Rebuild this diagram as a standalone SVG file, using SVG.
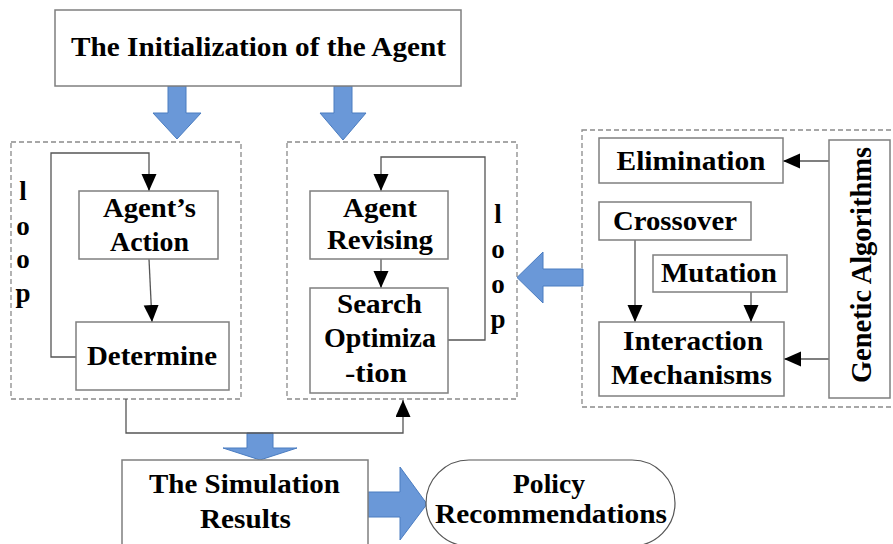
<svg xmlns="http://www.w3.org/2000/svg" width="893" height="544" viewBox="0 0 893 544">
<style>
  .box { fill: #ffffff; stroke: #7f7f7f; stroke-width: 1.5; }
  .dash { fill: none; stroke: #8a8a8a; stroke-width: 1.3; stroke-dasharray: 5 3; }
  .t { font-family: "Liberation Serif", serif; font-weight: bold; font-size: 27px; fill: #000; text-anchor: middle; }
  .con { fill: none; stroke: #555; stroke-width: 1.3; }
  .blue { fill: #6a98d8; stroke: #4a7cc0; stroke-width: 1; }
</style>
<defs>
  <marker id="ah" markerWidth="18" markerHeight="16" refX="17" refY="7.5" orient="auto" markerUnits="userSpaceOnUse">
    <path d="M0,0 L17,7.5 L0,15 z" fill="#000"/>
  </marker>
</defs>
<rect width="893" height="544" fill="#ffffff"/>

<!-- dashed containers -->
<g id="loop-group-left"><rect class="dash" x="11" y="142" width="230" height="257"/></g>
<g id="loop-group-middle"><rect class="dash" x="287" y="142" width="230" height="257"/></g>
<g id="ga-group"><rect class="dash" x="582" y="130" width="320" height="277"/></g>

<!-- blue block arrows -->
<g id="block-arrows">
  <polygon class="blue" points="168,86 186,86 186,113 201,113 177,139 153,113 168,113"/>
  <polygon class="blue" points="334,86 352,86 352,113 366,113 343,140 320,113 334,113"/>
  <polygon class="blue" points="583,269 543,269 543,252 517,277.5 543,303 543,286 583,286"/>
  <polygon class="blue" points="247,433 273,433 273,448 297,448 260,460 223,448 247,448"/>
  <polygon class="blue" points="368,492 400,492 400,467 427,504 400,540 400,517 368,517"/>
</g>

<!-- connectors -->
<g id="connectors">
  <path class="con" d="M76,357 H51 V153 H149 V191" marker-end="url(#ah)"/>
  <path class="con" d="M149,259 L152,322" marker-end="url(#ah)"/>
  <path class="con" d="M381,259 V288" marker-end="url(#ah)"/>
  <path class="con" d="M448,340 H485 V157 H381 V191" marker-end="url(#ah)"/>
  <path class="con" d="M126,399 V433 H403 V400" marker-end="url(#ah)"/>
  <path class="con" d="M829,161 H783" marker-end="url(#ah)"/>
  <path class="con" d="M829,359 H784" marker-end="url(#ah)"/>
  <path class="con" d="M635,240 V322" marker-end="url(#ah)"/>
  <path class="con" d="M751,292 V322" marker-end="url(#ah)"/>
</g>

<!-- nodes -->
<g id="init">
  <rect class="box" x="55" y="10" width="406" height="76"/>
  <text class="t" x="258.5" y="56" textLength="375" lengthAdjust="spacingAndGlyphs">The Initialization of the Agent</text>
</g>

<g id="loop-left-label">
  <text class="t" x="23" y="200">l</text>
  <text class="t" x="23" y="235">o</text>
  <text class="t" x="23" y="268">o</text>
  <text class="t" x="23" y="302">p</text>
</g>

<g id="agent-action">
  <rect class="box" x="79" y="191" width="139" height="68"/>
  <text class="t" x="149.5" y="217" textLength="93" lengthAdjust="spacingAndGlyphs">Agent’s</text>
  <text class="t" x="149.5" y="251" textLength="79" lengthAdjust="spacingAndGlyphs">Action</text>
</g>

<g id="determine">
  <rect class="box" x="76" y="322" width="153" height="68"/>
  <text class="t" x="152" y="365" textLength="130" lengthAdjust="spacingAndGlyphs">Determine</text>
</g>

<g id="agent-revising">
  <rect class="box" x="310" y="191" width="138" height="68"/>
  <text class="t" x="380" y="217" textLength="74" lengthAdjust="spacingAndGlyphs">Agent</text>
  <text class="t" x="380" y="249" textLength="106" lengthAdjust="spacingAndGlyphs">Revising</text>
</g>

<g id="search-optimization">
  <rect class="box" x="310" y="288" width="138" height="105"/>
  <text class="t" x="379.5" y="313" textLength="85" lengthAdjust="spacingAndGlyphs">Search</text>
  <text class="t" x="380" y="347" textLength="112" lengthAdjust="spacingAndGlyphs">Optimiza</text>
  <text class="t" x="376" y="382" textLength="62" lengthAdjust="spacingAndGlyphs">-tion</text>
</g>

<g id="loop-right-label">
  <text class="t" x="498" y="223">l</text>
  <text class="t" x="498" y="258">o</text>
  <text class="t" x="498" y="293">o</text>
  <text class="t" x="498" y="328">p</text>
</g>

<g id="elimination">
  <rect class="box" x="599" y="138" width="184" height="45"/>
  <text class="t" x="691" y="170" textLength="149" lengthAdjust="spacingAndGlyphs">Elimination</text>
</g>

<g id="crossover">
  <rect class="box" x="599" y="202" width="152" height="38"/>
  <text class="t" x="675" y="230" textLength="124" lengthAdjust="spacingAndGlyphs">Crossover</text>
</g>

<g id="mutation">
  <rect class="box" x="653" y="255" width="134" height="37"/>
  <text class="t" x="719" y="282" textLength="116" lengthAdjust="spacingAndGlyphs">Mutation</text>
</g>

<g id="interaction-mechanisms">
  <rect class="box" x="599" y="322" width="185" height="74"/>
  <text class="t" x="693" y="350" textLength="140" lengthAdjust="spacingAndGlyphs">Interaction</text>
  <text class="t" x="691.5" y="384" textLength="161" lengthAdjust="spacingAndGlyphs">Mechanisms</text>
</g>

<g id="genetic-algorithms">
  <rect class="box" x="829" y="140" width="61" height="258"/>
  <text class="t" style="font-size:30px" transform="translate(871,265) rotate(-90)" x="0" y="0" textLength="236" lengthAdjust="spacingAndGlyphs">Genetic Algorithms</text>
</g>

<g id="simulation-results">
  <rect class="box" x="122" y="460" width="246" height="100"/>
  <text class="t" x="244.5" y="493" textLength="191" lengthAdjust="spacingAndGlyphs">The Simulation</text>
  <text class="t" x="245.5" y="528" textLength="91" lengthAdjust="spacingAndGlyphs">Results</text>
</g>

<g id="policy-recommendations">
  <rect class="box" x="426" y="460" width="249" height="86" rx="43" ry="43" style="stroke:#555;stroke-width:1.2"/>
  <text class="t" x="549" y="493" textLength="72" lengthAdjust="spacingAndGlyphs">Policy</text>
  <text class="t" x="551" y="523" textLength="232" lengthAdjust="spacingAndGlyphs">Recommendations</text>
</g>
</svg>
